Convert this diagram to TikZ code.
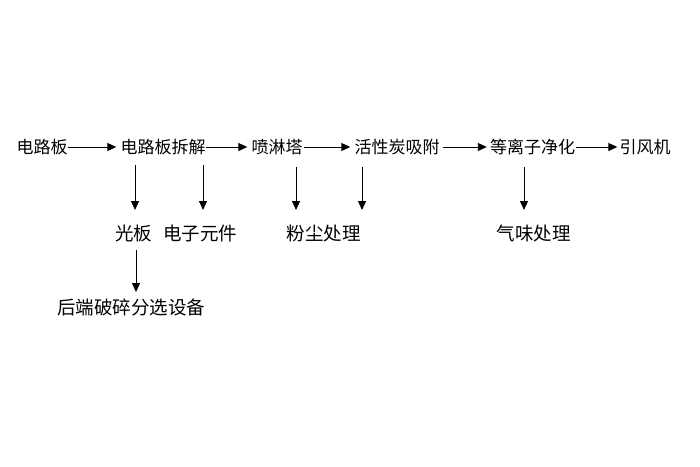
\documentclass[tikz,border=0pt]{standalone}
\usepackage{fontspec}
\setmainfont{Noto Sans CJK SC}
\usetikzlibrary{arrows.meta,calc}
\tikzset{
  top/.style={inner sep=0pt,font=\fontsize{17}{17}\selectfont},
  low/.style={inner sep=0pt,font=\fontsize{18.5}{18.5}\selectfont},
  arr/.style={draw=black,line width=0.9pt,-{Triangle[length=9pt,width=8pt]}}
}
\begin{document}
\begin{tikzpicture}[x=1pt,y=-1pt]
\useasboundingbox[fill=white] (0,0) rectangle (700,466);
\node[top] (n1) at (42,147) {电路板};
\node[top] (n2) at (163,147) {电路板拆解};
\node[top] (n3) at (277,147) {喷淋塔};
\node[top] (n4) at (397,147) {活性炭吸附};
\node[top] (n5) at (532.5,147) {等离子净化};
\node[top] (n6) at (645,147) {引风机};
\node[low] (m1) at (133.5,233) {光板};
\node[low] (m2) at (200,233) {电子元件};
\node[low] (m3) at (323.5,233) {粉尘处理};
\node[low] (m4) at (533.5,233) {气味处理};
\node[low] (b1) at (131,307) {后端破碎分选设备};
\draw[arr] (n1.east) -- ([xshift=-4pt]n2.west);
\draw[arr] (n2.east) -- ([xshift=-4pt]n3.west);
\draw[arr] ([xshift=1pt]n3.east) -- ([xshift=-4pt]n4.west);
\draw[arr] ([xshift=3pt]n4.east) -- ([xshift=-3pt]n5.west);
\draw[arr] ([xshift=1pt]n5.east) -- ([xshift=-2pt]n6.west);
\coordinate (t1) at (135,165); \coordinate (e1) at (135,210);
\coordinate (t2) at (203,165); \coordinate (e2) at (203,210);
\coordinate (t3) at (296,167); \coordinate (e3) at (296,210);
\coordinate (t4) at (362,167); \coordinate (e4) at (362,210);
\coordinate (t5) at (524,167); \coordinate (e5) at (524,210);
\coordinate (t6) at (136,250); \coordinate (e6) at (136,292);
\draw[arr] (t1) -- (e1);
\draw[arr] (t2) -- (e2);
\draw[arr] (t3) -- (e3);
\draw[arr] (t4) -- (e4);
\draw[arr] (t5) -- (e5);
\draw[arr] (t6) -- (e6);
\end{tikzpicture}
\end{document}
